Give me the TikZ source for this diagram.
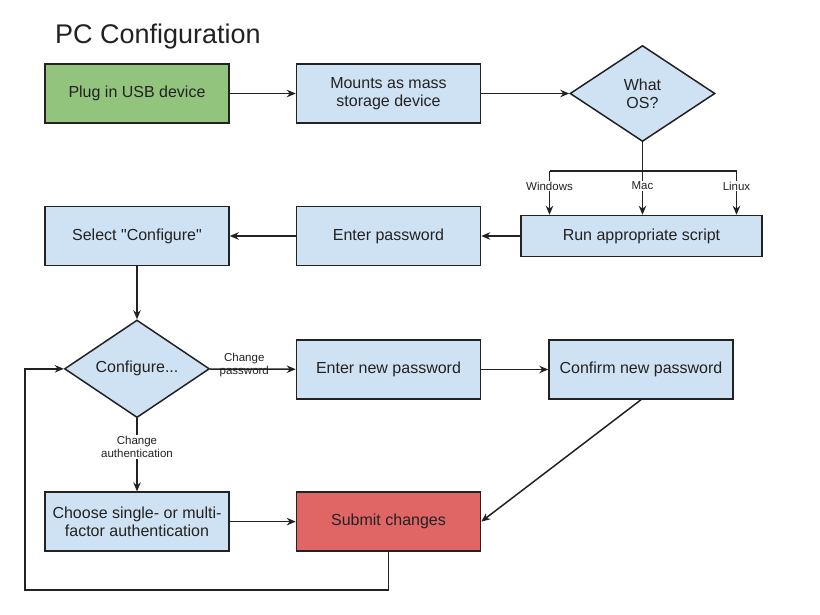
\documentclass[tikz,border=0pt]{standalone}
\usepackage{fontspec}
\setmainfont{Liberation Sans}
\usepackage{tikz}
\usetikzlibrary{shapes.geometric, positioning, arrows.meta}

\definecolor{boxblue}{HTML}{CFE2F3}
\definecolor{boxgreen}{HTML}{93C47D}
\definecolor{boxred}{HTML}{E06666}
\definecolor{linegray}{HTML}{222222}

\begin{document}
\begin{tikzpicture}[x=1pt, y=1pt, ->, >={Stealth[length=9pt, width=7.5pt]}, line width=1.5pt, color=linegray,
  node distance=82pt and 66pt,
  box/.style={rectangle, draw, fill=boxblue, minimum width=184pt, minimum height=59pt,
    inner sep=2pt, align=center, font=\fontsize{16}{18}\selectfont},
  choice/.style={diamond, draw, fill=boxblue, minimum width=145pt, minimum height=96pt,
    inner sep=0pt, align=center, font=\fontsize{16}{18}\selectfont},
  branch/.style={font=\fontsize{11.5}{13}\selectfont, align=center, inner sep=1pt}]
\useasboundingbox (0,0) rectangle (820,-615);

% Cajas
\node[anchor=west, font=\fontsize{27}{31}\selectfont] (title) at (51,-37) {PC Configuration};
\node[box, fill=boxgreen] (plug) at (137,-93.5) {Plug in USB device};
\node[box, right=of plug] (mount) {Mounts as mass\\storage device};
\node[choice, right=88pt of mount] (os) {What\\OS?};
\node[box, below=of mount] (enterpw) {Enter password};
\node[box, minimum width=241pt, minimum height=41pt, right=39pt of enterpw] (run) {Run appropriate script};
\node[box, below=of plug] (select) {Select \textquotedbl Configure\textquotedbl};
\node[choice, below=53pt of select] (config) {Configure...};
\node[box, below=73pt of enterpw] (newpw) {Enter new password};
\node[box, right=67pt of newpw] (confirm) {Confirm new password};
\node[box, below=73pt of config] (choose) {Choose single- or multi-\\factor authentication};
\node[box, fill=boxred, right=of choose] (submit) {Submit changes};

% Puntos de paso
\coordinate[below=29pt of os.south] (split);
\coordinate[left=93pt of split] (winsplit);
\coordinate[right=94pt of split] (linsplit);
\coordinate (back) at (25,-590);

% Flechas
\draw[-] (os) -- (split);
\draw[-] (winsplit) -- (linsplit);
\draw (winsplit) -- node[branch, fill=white, pos=0.34] {Windows} (winsplit |- run.north);
\draw (split) -- node[branch, fill=white, pos=0.34] {Mac} (split |- run.north);
\draw (linsplit) -- node[branch, fill=white, pos=0.34] {Linux} (linsplit |- run.north);
\draw (plug) -- (mount);
\draw (mount) -- (os);
\draw (run) -- (enterpw);
\draw (enterpw) -- (select);
\draw (select) -- (config);
\draw (config) -- node[branch, pos=0.4, yshift=4pt] {Change\\password} (newpw);
\draw (newpw) -- (confirm);
\draw (config) -- node[branch, fill=white, pos=0.39] {Change\\authentication} (choose);
\draw (choose) -- (submit);
\draw (confirm.south) -- (submit.east);
\draw (submit.south) |- (back) |- (config.west);
\end{tikzpicture}
\end{document}
